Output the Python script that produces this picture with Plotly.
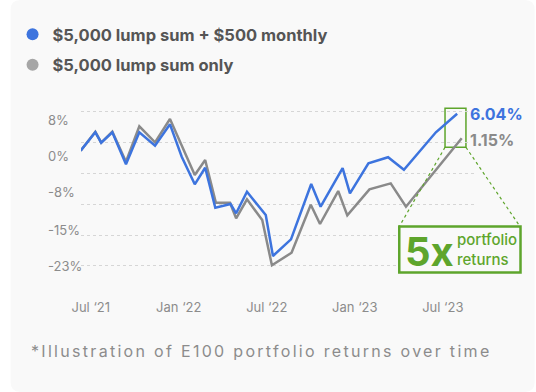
import plotly.graph_objects as go

# ---------------- data ----------------
series_names = ["$5,000 lump sum + $500 monthly", "$5,000 lump sum only"]

# months since Jul '21 (fractional)
blue_x = [-0.69, 0.31, 0.71, 1.47, 2.40, 3.31, 4.38, 5.40, 6.20, 7.09, 7.80, 8.49, 9.53, 9.91,
          10.65, 11.93, 12.42, 13.65, 15.03, 15.67, 17.17, 17.67, 18.93, 20.27, 21.35, 23.53, 24.98]
blue_y = [1.18, 5.27, 2.96, 5.27, -1.84, 5.27, 2.29, 7.04, -0.16, -6.29, -2.60, -11.49, -10.67, -12.73,
          -7.93, -13.11, -22.22, -18.51, -6.22, -11.27, -2.67, -8.29, -1.62, -0.27, -3.04, 5.27, 9.40]

grey_x = [-0.69, 0.31, 0.71, 1.47, 2.40, 3.31, 4.38, 5.40, 7.09, 7.80, 8.53, 9.49, 9.91, 10.65,
          11.69, 12.35, 13.69, 15.00, 15.63, 16.87, 17.49, 19.00, 20.45, 21.49, 25.29]
grey_y = [1.18, 5.40, 2.96, 5.40, -1.27, 6.60, 3.04, 8.22, -4.22, -0.89, -10.38, -10.38, -13.84, -9.62,
          -14.22, -24.29, -21.49, -10.82, -15.11, -7.78, -13.18, -7.40, -6.07, -11.27, 3.93]

x_tickvals = [0, 6, 12, 18, 24]
x_ticktext = ["Jul \u201821", "Jan \u201822", "Jul \u201822", "Jan \u201823", "Jul \u201823"]

y_tickvals = [8, 0, -8.07, -16.4, -24.5]
y_ticktext = ["8%", "0%", "-8%", "-15%", "-23%"]
y_gridvals = [10.0, 3.04, -3.93, -10.82, -17.62, -24.22]

end_labels = ["6.04%", "1.15%"]
callout_big = "5x"
callout_small = "portfolio<br>returns"
footnote = "*Illustration of E100 portfolio returns over time"

# ---------------- styling ----------------
W, H = 536, 392
ML, MR, MT, MB = 72, 59, 95, 95
PW, PH = W - ML - MR, H - MT - MB
FONT = "Inter, 'DejaVu Sans', sans-serif"
BLUE = "#3d74de"
GREY = "#8a8a8a"
GREY_LEG = "#a6a6a6"
GREEN = "#5ea52c"
BG = "#f9f9f9"


def px_x(p):
    return (p - ML) / PW


def px_y(p):
    return (H - MB - p) / PH


fig = go.Figure()

fig.add_trace(go.Scatter(x=grey_x, y=grey_y, mode="lines", line=dict(color=GREY, width=2.5),
                         showlegend=False, hoverinfo="skip"))
fig.add_trace(go.Scatter(x=blue_x, y=blue_y, mode="lines", line=dict(color=BLUE, width=2.5),
                         showlegend=False, hoverinfo="skip"))

# legend entries (circle markers)
fig.add_trace(go.Scatter(x=[None], y=[None], mode="markers", name=series_names[0],
                         marker=dict(color=BLUE, size=12), legendgroup="a", legendrank=1))
fig.add_trace(go.Scatter(x=[None], y=[None], mode="markers", name=series_names[1],
                         marker=dict(color=GREY_LEG, size=12), legendgroup="b", legendrank=2))

# rounded card background
r = 10


def card_path():
    x0, x1, y0, y1 = 0, W, 0, H
    pts = [
        ("M", (x0 + r, y0)), ("L", (x1 - r, y0)), ("Q", (x1, y0), (x1, y0 + r)),
        ("L", (x1, y1 - r)), ("Q", (x1, y1), (x1 - r, y1)), ("L", (x0 + r, y1)),
        ("Q", (x0, y1), (x0, y1 - r)), ("L", (x0, y0 + r)), ("Q", (x0, y0), (x0 + r, y0)),
    ]
    s = ""
    for item in pts:
        cmd = item[0]
        coords = " ".join(f"{px_x(a):.5f},{px_y(b):.5f}" for a, b in item[1:])
        s += f"{cmd} {coords} "
    return s + "Z"


shapes = [
    dict(type="path", path=card_path(), xref="paper", yref="paper", fillcolor=BG,
         line=dict(width=0), layer="below"),
    # small box around the end points
    dict(type="rect", xref="paper", yref="paper", x0=px_x(444.3), x1=px_x(465.7),
         y0=px_y(147.3), y1=px_y(108.3), line=dict(color=GREEN, width=1.5), fillcolor=BG,
         layer="between"),
    # dotted connectors
    dict(type="line", xref="paper", yref="paper", x0=px_x(444.3), y0=px_y(147.3),
         x1=px_x(397.5), y1=px_y(226.5), line=dict(color=GREEN, width=1.2, dash="dot")),
    dict(type="line", xref="paper", yref="paper", x0=px_x(465.7), y0=px_y(147.3),
         x1=px_x(521.0), y1=px_y(226.5), line=dict(color=GREEN, width=1.2, dash="dot")),
    # big callout box
    dict(type="rect", xref="paper", yref="paper", x0=px_x(397.5), x1=px_x(521.5),
         y0=px_y(272.5), y1=px_y(226.5), line=dict(color=GREEN, width=2.5), fillcolor=BG,
         layer="above"),
]

annotations = []
for v, t in zip(y_tickvals, y_ticktext):
    annotations.append(dict(x=px_x(36), y=v, xref="paper", yref="y", text=t, showarrow=False,
                            xanchor="left", yanchor="middle",
                            font=dict(family=FONT, size=13, color="#8c8c8c")))

annotations += [
    dict(x=px_x(469), y=px_y(114), xref="paper", yref="paper", text=f"<b>{end_labels[0]}</b>",
         showarrow=False, xanchor="left", yanchor="middle", bgcolor=BG, borderpad=0,
         font=dict(family=FONT, size=16, color=BLUE)),
    dict(x=px_x(469), y=px_y(139.5), xref="paper", yref="paper", text=f"<b>{end_labels[1]}</b>",
         showarrow=False, xanchor="left", yanchor="middle", bgcolor=BG, borderpad=0,
         font=dict(family=FONT, size=16, color=GREY)),
    dict(x=px_x(401), y=px_y(251), xref="paper", yref="paper", text=f"<b>{callout_big}</b>",
         showarrow=False, xanchor="left", yanchor="middle",
         font=dict(family=FONT, size=40, color=GREEN)),
    dict(x=px_x(454), y=px_y(249.5), xref="paper", yref="paper", text=callout_small,
         showarrow=False, xanchor="left", yanchor="middle", align="left",
         font=dict(family=FONT, size=15, color=GREEN, weight=500)),
    dict(x=px_x(19), xref="paper", xanchor="left", y=px_y(351), yref="paper", yanchor="middle",
         text=f'<span style="letter-spacing:2.3px">{footnote}</span>', showarrow=False,
         font=dict(family=FONT, size=16, color="#8c8c8c")),
]

fig.update_layout(
    width=W, height=H, autosize=False,
    margin=dict(l=ML, r=MR, t=MT, b=MB, pad=0),
    paper_bgcolor="#ffffff", plot_bgcolor="rgba(0,0,0,0)",
    showlegend=True,
    legend=dict(x=px_x(2), y=px_y(17), xanchor="left", yanchor="top",
                bgcolor="rgba(0,0,0,0)", tracegroupgap=6,
                font=dict(family=FONT, size=16.5, color="#555555", weight="bold")),
    xaxis=dict(range=[-0.667, 26.333], tickvals=x_tickvals, ticktext=x_ticktext,
               showgrid=False, zeroline=False, showline=False, ticks="",
               ticklabelstandoff=1,
               tickfont=dict(family=FONT, size=13, color="#8c8c8c"), fixedrange=True),
    yaxis=dict(range=[-31.33, 13.56], showticklabels=False, showgrid=False, zeroline=False,
               showline=False, ticks="",
               minor=dict(tickvals=y_gridvals, showgrid=True, gridcolor="#d6d6d6",
                          griddash="dot", gridwidth=1, ticks=""),
               fixedrange=True),
    shapes=shapes,
    annotations=annotations,
    hovermode=False,
)

fig.write_html("out.html", config={"displayModeBar": False},
               post_script="document.body.style.margin='0';")
